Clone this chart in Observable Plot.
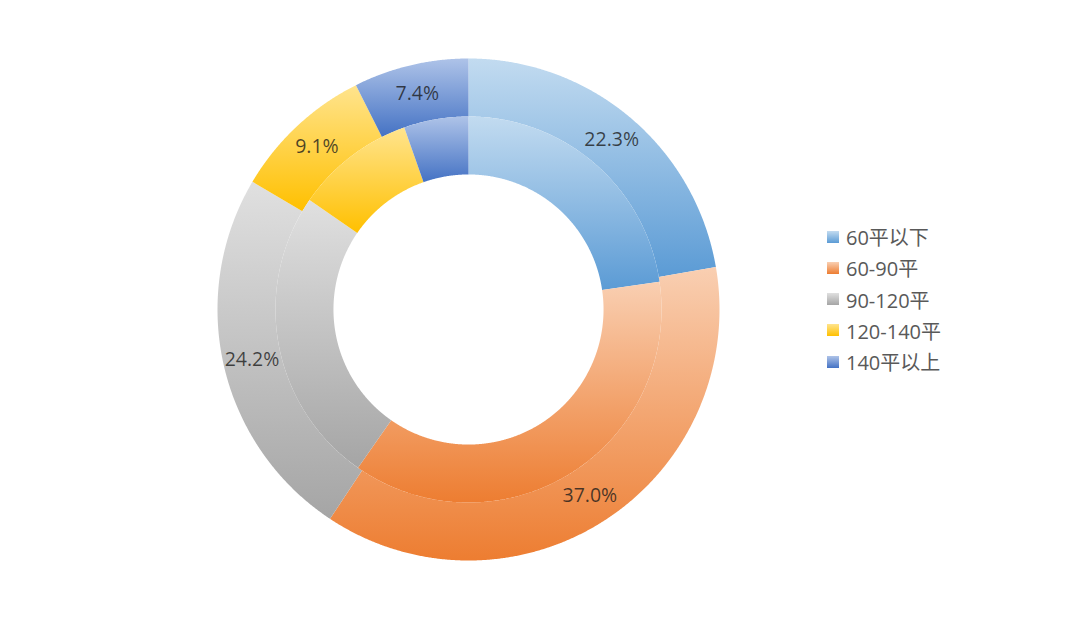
<!DOCTYPE html>
<html><head><meta charset="utf-8">
<script src="https://cdn.jsdelivr.net/npm/d3@7"></script>
<script src="https://cdn.jsdelivr.net/npm/@observablehq/plot@0.6"></script>
<style>
body{margin:0;background:#fff;font-family:"Open Sans","Noto Sans CJK SC",sans-serif;}
#wrap{position:relative;width:1080px;height:619px;}
#legend{position:absolute;left:827px;top:221px;}
.row{display:flex;align-items:center;height:31.25px;font-size:20px;color:#595959;white-space:nowrap;}
.sw{width:12px;height:12px;margin-right:7px;flex:none;}
</style></head><body><div id="wrap"></div>
<script>
const categories = ["60平以下", "60-90平", "90-120平", "120-140平", "140平以上"];
const outerValues = [22.3, 37.0, 24.2, 9.1, 7.4];
const innerValues = [22.7, 37.0, 24.9, 10.0, 5.4];
const outerLabels = ["22.3%", "37.0%", "24.2%", "9.1%", "7.4%"];
const lightColors = ["#c2dbf0", "#f9cfb2", "#e0e0e0", "#ffe48e", "#aec3e8"];
const baseColors = ["#5b9bd5", "#ed7d31", "#a5a5a5", "#ffc000", "#4472c4"];

const R_OUT = 1, R_MID = 0.769, R_IN = 0.538, R_LABEL = 0.885;
const pie = d3.pie().sort(null).value(d => d);

function ringPoints(values, r0, r1, ring) {
  const pts = [];
  pie(values).forEach((a, i) => {
    const n = Math.max(2, Math.ceil((a.endAngle - a.startAngle) / (Math.PI / 720)));
    const id = ring + "-" + i;
    const fill = `url(#grad${i})`;
    for (let k = 0; k <= n; k++) {
      const t = a.startAngle + (a.endAngle - a.startAngle) * k / n;
      pts.push({id, fill, x: r1 * Math.sin(t), y: r1 * Math.cos(t)});
    }
    for (let k = n; k >= 0; k--) {
      const t = a.startAngle + (a.endAngle - a.startAngle) * k / n;
      pts.push({id, fill, x: r0 * Math.sin(t), y: r0 * Math.cos(t)});
    }
  });
  return pts;
}

const outerPts = ringPoints(outerValues, R_MID, R_OUT, "outer");
const innerPts = ringPoints(innerValues, R_IN, R_MID, "inner");
const labelData = pie(outerValues).map((a, i) => {
  const t = (a.startAngle + a.endAngle) / 2;
  return {label: outerLabels[i], x: R_LABEL * Math.sin(t), y: R_LABEL * Math.cos(t)};
});

const chart = Plot.plot({
  width: 1080, height: 619,
  marginLeft: 217, marginRight: 361, marginTop: 58, marginBottom: 59,
  x: {domain: [-1, 1], axis: null},
  y: {domain: [-1, 1], axis: null},
  color: {type: "identity"},
  style: {fontFamily: '"Open Sans","Noto Sans CJK SC",sans-serif', background: "#fff"},
  marks: [
    Plot.line(outerPts, {x: "x", y: "y", z: "id", fill: "fill", stroke: "none"}),
    Plot.line(innerPts, {x: "x", y: "y", z: "id", fill: "fill", stroke: "none"}),
    Plot.text(labelData, {x: "x", y: "y", text: "label", fontSize: 19.5, fill: "#1a1a1a", fillOpacity: 0.78})
  ]
});

const defs = d3.select(chart).insert("defs", ":first-child");
baseColors.forEach((c, i) => {
  const g = defs.append("linearGradient").attr("id", "grad" + i)
    .attr("x1", 0).attr("y1", 0).attr("x2", 0).attr("y2", 1);
  g.append("stop").attr("offset", "0%").attr("stop-color", lightColors[i]);
  g.append("stop").attr("offset", "100%").attr("stop-color", c);
});

const wrap = document.getElementById("wrap");
wrap.appendChild(chart);
const legend = document.createElement("div");
legend.id = "legend";
categories.forEach((cat, i) => {
  const row = document.createElement("div");
  row.className = "row";
  const sw = document.createElement("span");
  sw.className = "sw";
  sw.style.background = `linear-gradient(to bottom, ${lightColors[i]}, ${baseColors[i]})`;
  const tx = document.createElement("span");
  tx.textContent = cat;
  row.appendChild(sw); row.appendChild(tx);
  legend.appendChild(row);
});
wrap.appendChild(legend);
</script></body></html>
